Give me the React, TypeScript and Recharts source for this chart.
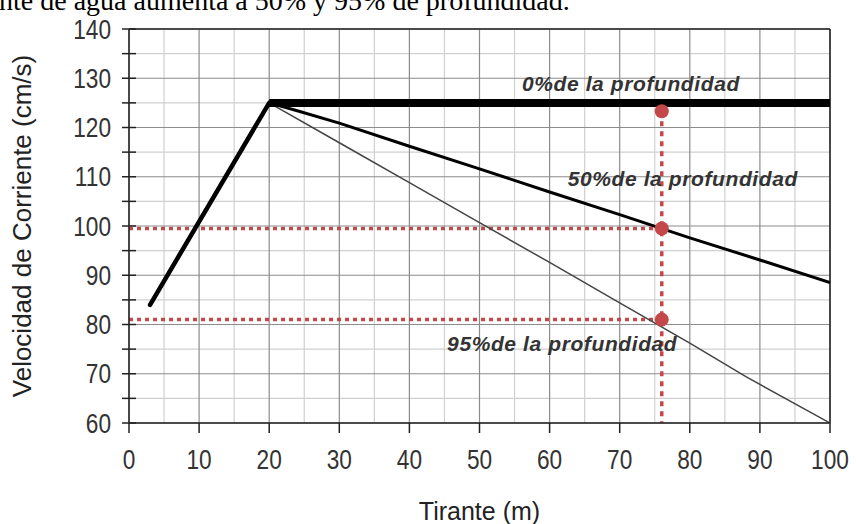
import { ComposedChart, Line, XAxis, YAxis, CartesianGrid, ReferenceLine, Scatter, Label } from 'recharts';

// axis ticks and grid
const xTicks = [0, 10, 20, 30, 40, 50, 60, 70, 80, 90, 100];
const xMinor = [5, 15, 25, 35, 45, 55, 65, 75, 85, 95];
const yTicks = [60, 65, 70, 75, 80, 85, 90, 95, 100, 105, 110, 115, 120, 125, 130, 135, 140];
const yMajor = [60, 70, 80, 90, 100, 110, 120, 130, 140];
const yMinor = [65, 75, 85, 95, 105, 115, 125, 135];

// curves (tirante m -> velocidad cm/s)
const riseX = [3, 20];
const riseY = [84, 125];
const surfaceX = [20, 100];
const surfaceY = [125, 125];
const midX = [20, 24, 30, 40, 50, 60, 70, 80, 90, 100];
const midY = [125, 123.4, 120.9, 116.2, 111.6, 106.9, 102.3, 97.6, 93.1, 88.5];
const deepX = [20, 30, 40, 50, 60, 70, 80, 88, 100];
const deepY = [125, 116.9, 108.8, 100.7, 92.6, 84.4, 76.2, 69.4, 60];

// lectura en tirante = 76 m
const readX = 76;
const readY = [123.3, 99.5, 81];

// rotulos de las curvas
const labelText = ['0%de la profundidad', '50%de la profundidad', '95%de la profundidad'];
const labelX = [71.6, 79, 61.8];
const labelY = [129, 109.7, 76.2];

const zip = (xs: number[], ys: number[]) => xs.map((x, i) => ({ x, y: ys[i] }));

const RED = '#c4484a';
const SANS = "'Liberation Sans', Arial, sans-serif";

// tick labels in the source use a condensed face; squeeze the text horizontally
function YTick({ x, y, payload }: any) {
  if (payload.value % 10 !== 0) return null;
  return (
    <text transform={`translate(${x},${y}) scale(0.84,1)`} textAnchor="end" dominantBaseline="central"
      fontSize={27} fill="#333" fontFamily={SANS}>
      {payload.value}
    </text>
  );
}

function XTick({ x, y, payload }: any) {
  return (
    <text transform={`translate(${x},${y}) scale(0.84,1)`} textAnchor="middle" dy="0.71em"
      fontSize={27} fill="#333" fontFamily={SANS}>
      {payload.value}
    </text>
  );
}

export default function App() {
  const dots = readY.map(y => ({ x: readX, y }));
  const labels = labelText.map((text, i) => ({ x: labelX[i], y: labelY[i], text }));

  return (
    <div style={{ position: 'absolute', left: 0, top: 0, width: 856, height: 524, overflow: 'hidden', background: '#fff' }}>
      <div
        style={{
          position: 'absolute', left: -1, top: -13.5, whiteSpace: 'nowrap',
          fontFamily: "'Liberation Serif', 'Times New Roman', serif", fontSize: 28, lineHeight: '28px', color: '#000',
        }}
      >
        nte de agua aumenta a 50% y 95% de profundidad.
      </div>
      <ComposedChart width={856} height={524} margin={{ top: 29, right: 26, bottom: 0, left: 0 }}>
        <CartesianGrid stroke="#d0d0d0" strokeWidth={1.2} verticalValues={xMinor} horizontalValues={yMinor} />
        <CartesianGrid stroke="#8c8c8c" strokeWidth={1.2} verticalValues={xTicks} horizontalValues={yMajor} />
        <XAxis
          dataKey="x" type="number" domain={[0, 100]} ticks={xTicks} allowDataOverflow
          height={101} tickSize={10} tickMargin={17}
          stroke="#222" strokeWidth={1.5}
          tick={<XTick />}
        >
          <Label value="Tirante (m)" position="insideBottom" offset={4} fontSize={25} fill="#222" fontFamily={SANS} />
        </XAxis>
        <YAxis
          type="number" domain={[60, 140]} ticks={yTicks} allowDataOverflow interval={0}
          width={129} tickSize={7} tickMargin={11}
          stroke="#222" strokeWidth={1.5}
          tick={<YTick />}
          label={{
            content: (p: any) => {
              const vb = p.viewBox;
              const cx = vb.x + 22;
              const cy = vb.y + vb.height / 2;
              return (
                <text x={cx} y={cy} transform={`rotate(-90 ${cx} ${cy})`} textAnchor="middle" dominantBaseline="central"
                  fontSize={26} fill="#222" fontFamily={SANS}>
                  Velocidad de Corriente (cm/s)
                </text>
              );
            },
          }}
        />
        {/* marco superior y derecho */}
        <ReferenceLine y={140} stroke="#222" strokeWidth={1.5} />
        <ReferenceLine x={100} stroke="#222" strokeWidth={1.5} />
        {/* marcas del eje Y que cruzan hacia dentro */}
        {yTicks.map(v => (
          <ReferenceLine key={'t' + v} segment={[{ x: 0, y: v }, { x: 1, y: v }]} stroke="#222" strokeWidth={1.5} />
        ))}

        {/* lineas de lectura */}
        <ReferenceLine segment={[{ x: 0, y: readY[1] }, { x: readX, y: readY[1] }]} stroke={RED} strokeWidth={3.5} strokeDasharray="4 4" />
        <ReferenceLine segment={[{ x: 0, y: readY[2] }, { x: readX, y: readY[2] }]} stroke={RED} strokeWidth={3.5} strokeDasharray="4 4" />
        <ReferenceLine segment={[{ x: readX, y: readY[0] }, { x: readX, y: 60 }]} stroke={RED} strokeWidth={3.5} strokeDasharray="5 5" />

        <Line data={zip(deepX, deepY)} dataKey="y" stroke="#444" strokeWidth={1.5} dot={false} isAnimationActive={false} />
        <Line data={zip(midX, midY)} dataKey="y" stroke="#000" strokeWidth={3} dot={false} isAnimationActive={false} />
        <Line data={zip(surfaceX, surfaceY)} dataKey="y" stroke="#000" strokeWidth={8} dot={false} isAnimationActive={false} />
        <Line data={zip(riseX, riseY)} dataKey="y" stroke="#000" strokeWidth={4.5} strokeLinecap="round" dot={false} isAnimationActive={false} />

        <Scatter
          data={dots} dataKey="y" isAnimationActive={false}
          shape={(p: any) => <circle cx={p.cx} cy={p.cy} r={7} fill={RED} />}
        />
        <Scatter
          data={labels} dataKey="y" isAnimationActive={false}
          shape={(p: any) => (
            <text x={p.cx} y={p.cy} textAnchor="middle" dominantBaseline="central" fontSize={21} fontStyle="italic"
              fontWeight="bold" fill="#333" fontFamily={SANS} letterSpacing={0.6}>
              {p.payload.text}
            </text>
          )}
        />
      </ComposedChart>
    </div>
  );
}
